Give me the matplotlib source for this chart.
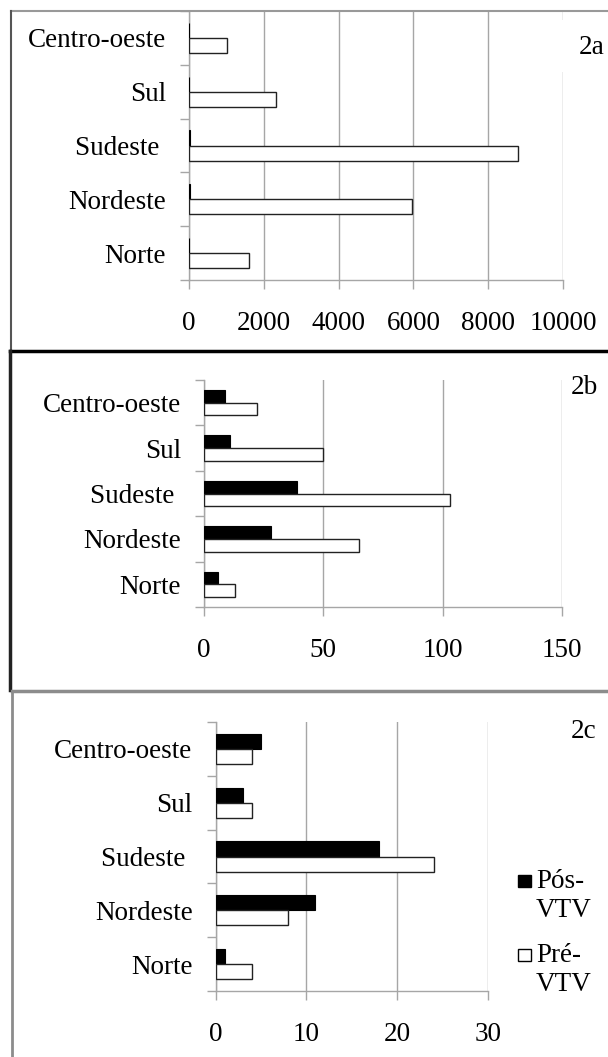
import matplotlib.pyplot as plt
import numpy as np
from matplotlib.lines import Line2D
from matplotlib.patches import Rectangle

plt.rcParams['font.family'] = ['Liberation Serif', 'DejaVu Serif']

W, H = 608, 1057

regioes = ['Norte', 'Nordeste', 'Sudeste ', 'Sul', 'Centro-oeste']
pos_2a = [6, 28, 39, 11, 9]
pre_2a = [1600, 5970, 8800, 2330, 1010]
pos_2b = [6, 28, 39, 11, 9]
pre_2b = [13, 65, 103, 50, 22]
pos_2c = [1, 11, 18, 3, 5]
pre_2c = [4, 8, 24, 4, 4]
ticks_2a = [0, 2000, 4000, 6000, 8000, 10000]
ticks_2b = [0, 50, 100, 150]
ticks_2c = [0, 10, 20, 30]
legenda = ['Pós-\nVTV', 'Pré-\nVTV']

GRID = '#a6a6a6'
FS = 19.5


def fx(px):
    return px / W


def fy(py):
    return 1 - py / H


def panel(fig, left, right, top, bottom, pos, pre, ticks):
    ax = fig.add_axes([fx(left), fy(bottom), fx(right - left), (bottom - top) / H])
    y = np.arange(len(regioes))
    h = 0.28
    ax.barh(y + h / 2, pos, height=h, color='black', edgecolor='black', lw=0.8, zorder=3)
    ax.barh(y - h / 2, pre, height=h, color='white', edgecolor='#222222', lw=1.0, zorder=3)
    ax.set_xlim(0, ticks[-1])
    ax.set_ylim(-0.5, len(regioes) - 0.5)
    ax.set_xticks(ticks)
    ax.set_xticklabels([str(t) for t in ticks], fontsize=FS)
    ax.set_yticks(y)
    ax.set_yticklabels(regioes, fontsize=FS)
    ax.set_yticks(np.arange(len(regioes) + 1) - 0.5, minor=True)
    ax.tick_params(axis='y', which='major', length=0, pad=16.5)
    ax.tick_params(axis='y', which='minor', length=6.5, color=GRID, width=1)
    ax.tick_params(axis='x', length=6.5, color=GRID, width=1, pad=16)
    ax.grid(axis='x', color=GRID, lw=1, zorder=0)
    for s in ['top', 'right']:
        ax.spines[s].set_visible(False)
    for s in ['left', 'bottom']:
        ax.spines[s].set_color(GRID)
        ax.spines[s].set_linewidth(1)
    ax.set_axisbelow(True)
    ax.patch.set_alpha(0)
    return ax


def fline(fig, xs, ys, color, lw):
    fig.add_artist(Line2D([fx(v) for v in xs], [fy(v) for v in ys],
                          transform=fig.transFigure, color=color, lw=lw))


fig = plt.figure(figsize=(W / 100, H / 100), dpi=100)

panel(fig, 189, 563, 11, 280, pos_2a, pre_2a, ticks_2a)
panel(fig, 204, 562, 380, 607, pos_2b, pre_2b, ticks_2b)
panel(fig, 215.5, 488, 722, 991, pos_2c, pre_2c, ticks_2c)

# molduras
fline(fig, [11, 608], [11, 11], '#999999', 1.5)
fline(fig, [11, 11], [11, 351], '#555555', 1.5)
fline(fig, [10, 608], [351, 351], 'black', 2.5)
fline(fig, [10, 10], [351, 690], '#222222', 2.5)
fline(fig, [12, 608], [691, 691], '#8c8c8c', 2.5)
fline(fig, [12, 12], [691, 1057], '#8c8c8c', 2)

# rótulos dos painéis
fig.add_artist(Rectangle((fx(561), fy(72)), fx(608 - 561), (72 - 20) / H,
                         transform=fig.transFigure, facecolor='white', edgecolor='none'))
fig.text(fx(579), fy(48), '2a', fontsize=FS, va='center', ha='left')
fig.text(fx(571), fy(387), '2b', fontsize=FS, va='center', ha='left')
fig.text(fx(571), fy(731), '2c', fontsize=FS, va='center', ha='left')

# legenda
cores = ['black', 'white']
for i, (lab, cor) in enumerate(zip(legenda, cores)):
    top = 875 + i * 74
    fig.add_artist(Rectangle((fx(518), fy(top + 12)), fx(13), 12 / H,
                             transform=fig.transFigure, facecolor=cor,
                             edgecolor='black', lw=1))
    fig.text(fx(536), fy(top + 21), lab, fontsize=FS, va='center', ha='left',
             linespacing=1.25)

fig.savefig('out.png', dpi=100)
